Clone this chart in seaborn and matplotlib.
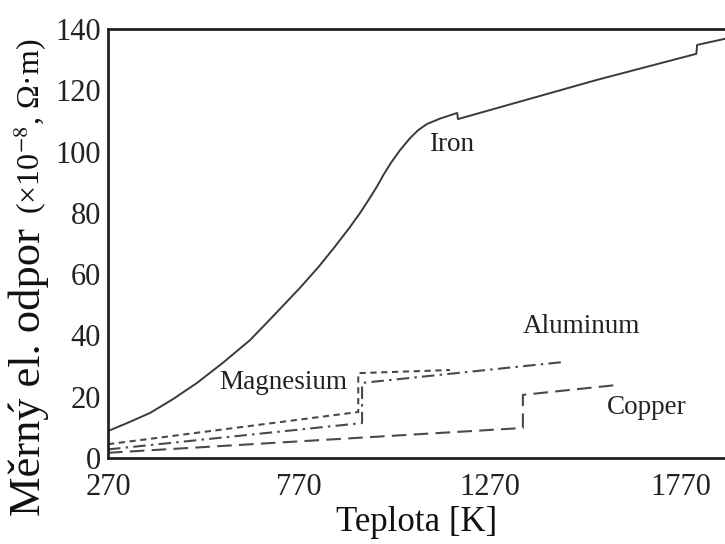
import matplotlib
matplotlib.use("Agg")
import matplotlib.pyplot as plt
import seaborn as sns
import pandas as pd

# Electrical resistivity of metals vs. temperature (x10^-8 Ohm·m)
iron_T = [270, 320, 380, 440, 503, 570, 642, 700, 773, 820, 859, 900, 930, 952, 974, 992, 1010,
          1034, 1060, 1082, 1105, 1140, 1184, 1186, 1550, 1810, 1812, 1885]
iron_rho = [8.8, 11.4, 14.7, 19.2, 24.5, 31.0, 38.5, 46.0, 55.6, 62.2, 68.2, 74.8, 80.0, 84.2, 88.6,
            92.6, 96.2, 100.4, 104.3, 107.0, 109.0, 110.8, 112.6, 110.6, 123.4, 131.9, 134.8, 136.8]

magnesium_T = [270, 925, 925, 1165]
magnesium_rho = [4.5, 15.0, 27.7, 28.7]

aluminum_T = [270, 935, 935, 1460]
aluminum_rho = [2.8, 11.4, 24.5, 31.3]

copper_T = [270, 1356, 1356, 1600]
copper_rho = [1.7, 9.8, 20.6, 23.8]

x_ticks = [270, 770, 1270, 1770]
y_ticks = [0, 20, 40, 60, 80, 100, 120, 140]

sns.set_theme(style="white")
plt.rcParams["font.family"] = ["Liberation Serif", "DejaVu Serif"]
plt.rcParams["mathtext.fontset"] = "stix"

frames = []
for name, T, rho in [("Iron", iron_T, iron_rho), ("Magnesium", magnesium_T, magnesium_rho),
                     ("Aluminum", aluminum_T, aluminum_rho), ("Copper", copper_T, copper_rho)]:
    frames.append(pd.DataFrame({"T": T, "rho": rho, "metal": name}))
df = pd.concat(frames, ignore_index=True)

fig = plt.figure(figsize=(7.25, 5.44), dpi=100)
ax = fig.add_axes([108 / 725, 1 - 458 / 544, 617 / 725, (458 - 29) / 544])

styles = {
    "Iron": dict(ls="-", lw=1.4, color="#3a3a3a"),
    "Magnesium": dict(ls=(0, (3.0, 2.2)), lw=1.5, color="#4a4a4a"),
    "Aluminum": dict(ls=(0, (6, 2.5, 1.2, 2.5)), lw=1.5, color="#4a4a4a"),
    "Copper": dict(ls=(0, (7, 3.5)), lw=1.5, color="#4a4a4a"),
}
for name, sub in df.groupby("metal", sort=False):
    sns.lineplot(data=sub, x="T", y="rho", ax=ax, sort=False, estimator=None,
                 legend=False, **styles[name])

ax.set_xlim(270, 1885)
ax.set_ylim(0, 140)
ax.set_xticks(x_ticks)
ax.set_yticks(y_ticks)
ax.tick_params(axis="x", direction="out", length=8, width=1.5, labelsize=22, pad=3, colors="#222222")
ax.tick_params(axis="y", direction="in", length=8, width=1.5, labelsize=22, pad=5, colors="#222222")
for side in ["left", "bottom", "top"]:
    ax.spines[side].set_linewidth(2.0)
    ax.spines[side].set_color("#222222")
ax.spines["right"].set_visible(False)

ax.set_xlabel("Teplota [K]", fontsize=25, color="#111111", labelpad=3)
ax.set_ylabel("")

fig.text(29 / 725, 1 - 372 / 544, "Měrný el. odpor", rotation=90, fontsize=32,
         ha="center", va="center", color="#111111")
fig.text(30 / 725, 1 - 126 / 544, "(×10$^{-8}$, Ω·m)", rotation=90, fontsize=23,
         ha="center", va="center", color="#111111")

labels = [("Iron", 1168, 102.2), ("Aluminum", 1508, 42.8),
          ("Magnesium", 728, 24.8), ("Copper", 1681, 16.6)]
for text, x, y in labels:
    ax.text(x, y, text, fontsize=19.5, ha="center", va="center", color="#222222")

fig.savefig("out.png", dpi=100)
